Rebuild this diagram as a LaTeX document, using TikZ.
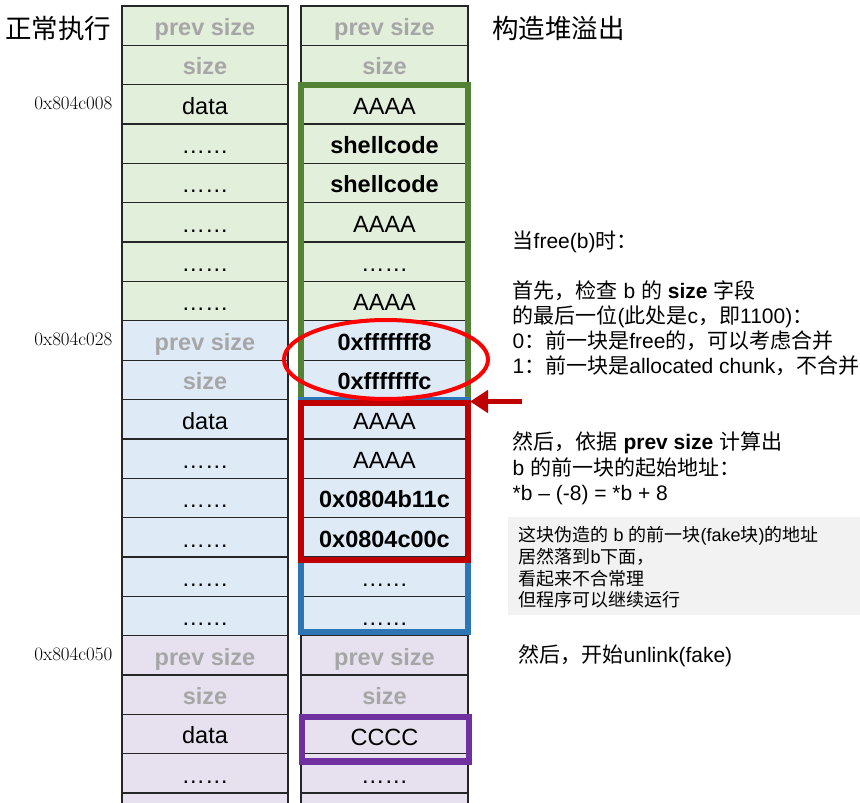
\documentclass[tikz,border=0pt]{standalone}
\usepackage{fontspec}
\newfontfamily\arial{Liberation Sans}
\newfontfamily\zhfont{Noto Sans CJK SC}
\usetikzlibrary{shapes.geometric,arrows.meta}
\definecolor{gfill}{HTML}{E2EFDA}
\definecolor{bfill}{HTML}{DEEBF7}
\definecolor{pfill}{HTML}{E7E0EF}
\definecolor{gline}{HTML}{548235}
\definecolor{bline}{HTML}{2E75B6}
\definecolor{pline}{HTML}{7030A0}
\definecolor{rline}{HTML}{C00000}
\definecolor{ovalred}{HTML}{FF0000}
\definecolor{gtext}{HTML}{A6A6A6}
\definecolor{notefill}{HTML}{F2F2F2}
\newcommand\zh[1]{{\zhfont #1}}
\tikzset{
  cell/.style={draw=black!85, line width=1.3pt, minimum width=166pt, minimum height=39.35pt, inner sep=0pt, outer sep=0pt},
  ctext/.style={anchor=base, inner sep=0pt, font=\arial\fontsize{23.5}{28}\selectfont},
  bctext/.style={ctext, font=\arial\bfseries\fontsize{23.5}{28}\selectfont},
  hdr/.style={bctext, text=gtext},
  addr/.style={anchor=base east, inner sep=0pt, font=\fontsize{19}{22}\selectfont},
  titletext/.style={anchor=base west, inner sep=0pt, font=\zhfont\fontsize{26.5}{30}\selectfont},
  desc/.style={anchor=base west, inner sep=0pt, font=\arial\fontsize{21}{25}\selectfont},
  notetext/.style={anchor=base west, inner sep=0pt, font=\arial\fontsize{18}{21}\selectfont},
  frame/.style={line width=6pt},
}
\newcommand\mkrow[6]{%
  \node[cell, fill=#2] (L#1) at (205, {6+39.35*(#1+0.5)}) {};
  \node[cell, fill=#2, minimum width=167pt] (R#1) at (384.5, {6+39.35*(#1+0.5)}) {};
  \node[#3] (LT#1) at ([yshift=-29.5pt]L#1.north) {#4};
  \node[#5] (RT#1) at ([yshift=-29.5pt]R#1.north) {#6};
}
\begin{document}
\begin{tikzpicture}[x=1pt,y=-1pt]
\path[use as bounding box] (0,0) rectangle (860,803);
\clip (0,0) rectangle (860,803);
% rows
\mkrow{0}{gfill}{hdr}{prev size}{hdr}{prev size}
\mkrow{1}{gfill}{hdr}{size}{hdr}{size}
\mkrow{2}{gfill}{ctext}{data}{ctext}{AAAA}
\mkrow{3}{gfill}{ctext}{……}{bctext}{shellcode}
\mkrow{4}{gfill}{ctext}{……}{bctext}{shellcode}
\mkrow{5}{gfill}{ctext}{……}{ctext}{AAAA}
\mkrow{6}{gfill}{ctext}{……}{ctext}{……}
\mkrow{7}{gfill}{ctext}{……}{ctext}{AAAA}
\mkrow{8}{bfill}{hdr}{prev size}{bctext}{0xfffffff8}
\mkrow{9}{bfill}{hdr}{size}{bctext}{0xfffffffc}
\mkrow{10}{bfill}{ctext}{data}{ctext}{AAAA}
\mkrow{11}{bfill}{ctext}{……}{ctext}{AAAA}
\mkrow{12}{bfill}{ctext}{……}{bctext}{0x0804b11c}
\mkrow{13}{bfill}{ctext}{……}{bctext}{0x0804c00c}
\mkrow{14}{bfill}{ctext}{……}{ctext}{……}
\mkrow{15}{bfill}{ctext}{……}{ctext}{……}
\mkrow{16}{pfill}{hdr}{prev size}{hdr}{prev size}
\mkrow{17}{pfill}{hdr}{size}{hdr}{size}
\mkrow{18}{pfill}{ctext}{data}{ctext,yshift=-2pt}{CCCC}
\mkrow{19}{pfill}{ctext}{……}{ctext}{……}
\mkrow{20}{pfill}{ctext}{}{ctext}{}
% addresses
\node[addr] (A2) at ([xshift=-9.5pt,yshift=-25pt]L2.north west) {0x804c008};
\node[addr] (A8) at ([xshift=-9.5pt,yshift=-25pt]L8.north west) {0x804c028};
\node[addr] (A16) at ([xshift=-9.5pt,yshift=-25pt]L16.north west) {0x804c050};
% titles
\node[titletext] (T1) at (5,38) {正常执行};
\node[titletext] (T2) at (492,38) {构造堆溢出};
% frames
\draw[frame, gline] (R2.north west) rectangle (R9.south east);
\draw[frame, bline] (R10.north west) rectangle ([yshift=3.5pt]R15.south east);
\draw[frame, rline] ([yshift=-3.5pt]R10.north west) rectangle ([yshift=-3pt]R13.south east);
\draw[frame, pline, line width=6.5pt] ([xshift=1pt,yshift=-2.5pt]R18.north west) rectangle ([xshift=1pt,yshift=-8pt]R18.south east);
% oval
\node[ellipse, draw=ovalred, line width=4pt, minimum width=204pt, minimum height=79pt, inner sep=0pt] (OV) at (386,359.5) {};
% arrow
\coordinate (ArS) at (522,401.5);
\coordinate (ArE) at (470,401.5);
\draw[rline, line width=4.5pt, -{Triangle[length=18pt,width=22pt]}] (ArS) -- (ArE);
% description
\node[desc] (D1) at (512.5,248.5) {\zh{当}free(b)\zh{时：}};
\node[desc] (D2) at (512.5,298.5) {\zh{首先，检查} b \zh{的} \textbf{size} \zh{字段}};
\node[desc] (D3) at (512.5,323.5) {\zh{的最后一位}(\zh{此处是}c\zh{，即}1100)\zh{：}};
\node[desc] (D4) at (512.5,348.5) {0\zh{：前一块是}free\zh{的，可以考虑合并}};
\node[desc] (D5) at (512.5,373.5) {1\zh{：前一块是}allocated chunk\zh{，不合并}};
\node[desc] (E1) at (512.5,449.5) {\zh{然后，依据} \textbf{prev size} \zh{计算出}};
\node[desc] (E2) at (512.5,475) {b \zh{的前一块的起始地址：}};
\node[desc] (E3) at (512.5,500.5) {*b – (-8) = *b + 8};
\node[fill=notefill, minimum width=352pt, minimum height=98pt, inner sep=0pt, anchor=north west] (NB) at (508,517) {};
\node[notetext] (N1) at (518.5,541.5) {\zh{这块伪造的} b \zh{的前一块}(fake\zh{块})\zh{的地址}};
\node[notetext] (N2) at (518.5,563) {\zh{居然落到}b\zh{下面，}};
\node[notetext] (N3) at (518.5,585) {\zh{看起来不合常理}};
\node[notetext] (N4) at (518.5,606.5) {\zh{但程序可以继续运行}};
\node[desc] (F1) at (518.5,662) {\zh{然后，开始}unlink(fake)};
\end{tikzpicture}
\end{document}
